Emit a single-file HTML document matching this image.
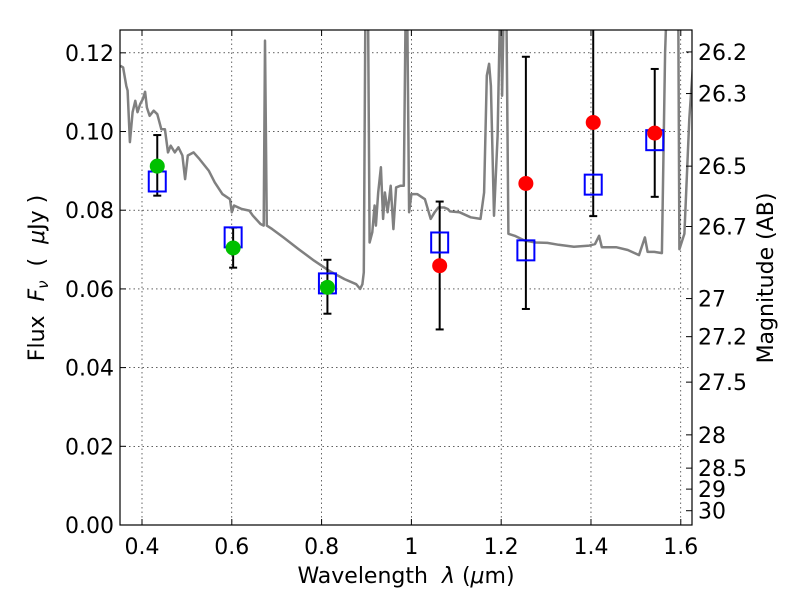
<!DOCTYPE html>
<html><head><meta charset="utf-8"><style>
body{margin:0;background:#fff;}
svg{display:block;font-family:"DejaVu Sans","Liberation Sans",sans-serif;}
</style></head><body>
<svg id="chart" width="800" height="600" viewBox="0 0 800 600">
<rect width="800" height="600" fill="#fff"/>
<defs><clipPath id="clip"><rect x="120" y="30" width="572" height="495"/></clipPath></defs>
<g id="grid"></g>
<g id="marks" clip-path="url(#clip)"></g>
<g id="pts"></g>
<rect x="120" y="30" width="572" height="495" fill="none" stroke="#000" stroke-width="1.2"/>
<g id="axes"></g>
<text x="406" y="583" font-size="22" text-anchor="middle">Wavelength&#160;&#160;<tspan font-style="italic">λ</tspan> (<tspan font-style="italic">μ</tspan>m)</text>
<text transform="translate(44,278) rotate(-90)" font-size="22" text-anchor="middle">Flux&#160;&#160;<tspan font-style="italic">F</tspan><tspan font-style="italic" font-size="15" dy="4">ν</tspan><tspan dy="-4">&#160;&#160;(&#160;&#160;</tspan><tspan font-style="italic">μ</tspan>Jy )</text>
<text transform="translate(773,278) rotate(-90)" font-size="22" text-anchor="middle">Magnitude (AB)</text>
</svg>
<script>
const xTicks=[0.4,0.6,0.8,1.0,1.2,1.4,1.6];
const xTickLabels=["0.4","0.6","0.8","1","1.2","1.4","1.6"];
const yTicks=[0,0.02,0.04,0.06,0.08,0.10,0.12];
const yTickLabels=["0.00","0.02","0.04","0.06","0.08","0.10","0.12"];
const magTicks=[26.2,26.3,26.5,26.7,27,27.2,27.5,28,28.5,29,30];
const magLabels=["26.2","26.3","26.5","26.7","27","27.2","27.5","28","28.5","29","30"];
const specWave=[0.352,0.358,0.365,0.368,0.373,0.379,0.385,0.390,0.396,0.402,0.407,0.411,0.417,0.426,0.434,0.443,0.451,0.458,0.464,0.473,0.481,0.490,0.496,0.502,0.515,0.528,0.549,0.562,0.579,0.596,0.600,0.605,0.622,0.639,0.647,0.664,0.671,0.674,0.678,0.690,0.715,0.749,0.783,0.817,0.851,0.877,0.886,0.891,0.894,0.898,0.903,0.907,0.913,0.918,0.921,0.926,0.932,0.937,0.941,0.947,0.954,0.960,0.966,0.975,0.983,0.988,0.990,0.995,1.000,1.013,1.030,1.043,1.052,1.060,1.073,1.081,1.086,1.107,1.132,1.154,1.162,1.168,1.173,1.177,1.184,1.192,1.199,1.202,1.207,1.211,1.216,1.230,1.252,1.277,1.303,1.328,1.362,1.396,1.409,1.418,1.424,1.456,1.482,1.507,1.520,1.526,1.541,1.558,1.565,1.571,1.594,1.597,1.608,1.619,1.628];
const specFlux=[0.1167,0.1163,0.1116,0.1104,0.0973,0.1049,0.1078,0.1049,0.1070,0.1083,0.1101,0.1061,0.1040,0.1053,0.1044,0.1006,0.1006,0.0947,0.0964,0.0947,0.0960,0.0939,0.0879,0.0939,0.0947,0.0930,0.0900,0.0871,0.0841,0.0828,0.0795,0.0812,0.0803,0.0799,0.0786,0.0765,0.0761,0.1231,0.0761,0.0752,0.0731,0.0701,0.0672,0.0646,0.0625,0.0612,0.0600,0.0612,0.0642,0.14,0.14,0.0718,0.0744,0.0812,0.0761,0.0845,0.0909,0.0778,0.0845,0.0795,0.0862,0.0752,0.0858,0.0862,0.0862,0.14,0.14,0.0795,0.0841,0.0841,0.0828,0.0778,0.0795,0.0807,0.0807,0.0803,0.0797,0.0795,0.0782,0.0778,0.0845,0.1142,0.1172,0.1116,0.0786,0.0989,0.14,0.1091,0.14,0.14,0.0740,0.0735,0.0723,0.0718,0.0717,0.0712,0.0707,0.0710,0.0714,0.0735,0.0706,0.0706,0.0699,0.0686,0.0731,0.0694,0.0694,0.0691,0.1201,0.14,0.14,0.0701,0.0740,0.1032,0.118];
const bandWave=[0.434,0.603,0.813,1.063,1.255,1.405,1.542];
const modelFlux=[0.0873,0.0731,0.0614,0.0718,0.0698,0.0865,0.0978];
const obsFlux=[0.0912,0.0704,0.0604,0.0659,0.0868,0.1023,0.0996];
const errHigh=[0.0991,0.0756,0.0674,0.0822,0.119,0.15,0.1159];
const errLow=[0.0837,0.0654,0.0537,0.0497,0.0549,0.0785,0.0834];
const obsColor=["#00c000","#00c000","#00c000","#ff0000","#ff0000","#ff0000","#ff0000"];

const X0=120,X1=692,Y0=525,Y1=30,xmin=0.351,xmax=1.625,ymin=0,ymax=0.1258;
const xs=v=>X0+(v-xmin)/(xmax-xmin)*(X1-X0);
const ys=v=>Y0-(v-ymin)/(ymax-ymin)*(Y0-Y1);
const NS="http://www.w3.org/2000/svg";
function mk(tag,attrs,parent){const e=document.createElementNS(NS,tag);for(const k in attrs)e.setAttribute(k,attrs[k]);parent.appendChild(e);return e;}
const grid=document.getElementById('grid'),axes=document.getElementById('axes'),marks=document.getElementById('marks'),pts=document.getElementById('pts');
xTicks.forEach((t,i)=>{const x=xs(t);
 const g=mk('line',{x1:x,x2:x,y1:Y1,y2:Y0,stroke:'#000','stroke-width':0.6,'stroke-dasharray':'1.5,3'},grid);
 
 
 mk('line',{x1:x,x2:x,y1:Y0,y2:Y0-6,stroke:'#000'},axes);
 mk('line',{x1:x,x2:x,y1:Y1,y2:Y1+6,stroke:'#000'},axes);
 const l=mk('text',{x:x,y:Y0+29,'font-size':22,'text-anchor':'middle'},axes);l.textContent=xTickLabels[i];
 
 });
yTicks.forEach((t,i)=>{const y=ys(t);
 const g=mk('line',{x1:X0,x2:X1,y1:y,y2:y,stroke:'#000','stroke-width':0.6,'stroke-dasharray':'1.5,3'},grid);
 
 
 mk('line',{x1:X0,x2:X0+6,y1:y,y2:y,stroke:'#000'},axes);
 const l=mk('text',{x:X0-6,y:y+8,'font-size':22,'text-anchor':'end'},axes);l.textContent=yTickLabels[i];
 
 });
magTicks.forEach((m,i)=>{const y=ys(Math.pow(10,(23.9-m)/2.5));
 mk('line',{x1:X1,x2:X1-6,y1:y,y2:y,stroke:'#000'},axes);
 const l=mk('text',{x:X1+6,y:y+8,'font-size':22},axes);l.textContent=magLabels[i];
 
 });
const d=specWave.map((w,i)=>(i?'L':'M')+xs(w).toFixed(1)+','+ys(specFlux[i]).toFixed(1)).join(' ');
const sp=mk('path',{d:d,fill:'none',stroke:'#808080','stroke-width':2.5,'stroke-linejoin':'round'},marks);


bandWave.forEach((w,i)=>{const x=xs(w);
 const eb=mk('g',{},pts);
 
 
 const yh=Math.max(ys(errHigh[i]),Y1),yl=ys(errLow[i]);
 mk('line',{x1:x,x2:x,y1:yh,y2:yl,stroke:'#000','stroke-width':2},eb);
 if(ys(errHigh[i])>=Y1)mk('line',{x1:x-4,x2:x+4,y1:yh,y2:yh,stroke:'#000','stroke-width':2},eb);
 mk('line',{x1:x-4,x2:x+4,y1:yl,y2:yl,stroke:'#000','stroke-width':2},eb);
 const sq=mk('rect',{x:x-8.5,y:ys(modelFlux[i])-10,width:17,height:20,fill:'none',stroke:'#0000ff','stroke-width':2},pts);
 
 
 const c=mk('circle',{cx:x,cy:ys(obsFlux[i]),r:7.5,fill:obsColor[i]},pts);
 
 });
</script>
</body></html>
